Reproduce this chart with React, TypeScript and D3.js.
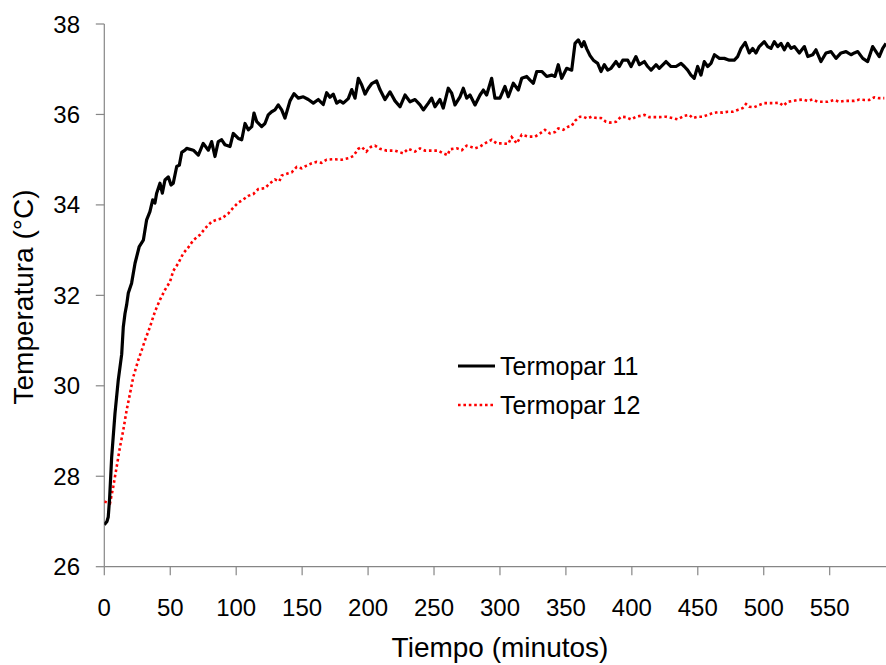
import React from "react";
import * as d3 from "d3";

// Termopar 11 (black, solid)
const time11 = [0,2,3,4,5.6,8.1,10.6,13.2,14.4,15.7,17,18.2,20.7,23.3,26.5,29.6,32.1,34.6,36.7,38.4,39.7,42.2,44,46,48.5,50.6,52.3,54.9,56.9,58.7,61.2,62.5,67.5,71.3,75,78.9,81.4,83.9,86.4,89,91.5,95.3,97.8,101.6,104.2,106.7,109.2,111.8,113.5,115.6,119.3,121.8,124.3,126.9,129.4,131.9,134.5,137,140.8,143.8,147.1,150.9,154.7,158.5,162.3,166,168.6,171.1,173.6,176.2,178.7,181.2,185,187.6,190.1,192.6,195.2,197.7,200.2,202.7,206.5,209,212.8,216.6,220.4,224.2,228,231.8,235.6,239.4,241.9,245.7,248.2,250.7,254.5,257,260.8,263.4,265.9,269.7,272.2,274.8,277.3,281.1,284.9,287.4,289.9,293.7,296.2,300,303.8,306.3,310.1,313.9,316.5,320.3,322.8,325.3,327.9,331.7,335.4,339.2,341.7,344.2,346.8,350.6,354.4,356.9,359.4,362,363.7,365.8,368.3,370.8,374.1,376.6,379.1,381.7,384.2,388,390.5,393.1,396.9,399.4,403.1,405.7,409.5,412,414.6,418.3,420.8,425.9,429.7,433.5,437.3,439.8,442.3,444.8,447.3,449.9,452.4,454.9,457.5,460,462.6,466.4,470.1,473.9,477.7,480.2,482.8,486,489,491.6,494.1,496.6,500.4,503,505.5,508,510.6,513.1,515.6,518.2,520.7,523.2,527,530.8,533.4,537.1,539.6,543.4,547.2,551,554.8,558.6,562.4,566.2,568.7,571.3,575.1,578.8,582.6,585.1,587.6,590.2,592.7];
const temp11 = [26.93,27.0,27.1,27.5,28.43,29.39,30.13,30.7,31.3,31.6,31.8,32.05,32.27,32.71,33.08,33.22,33.67,33.85,34.11,34.04,34.26,34.48,34.26,34.55,34.62,34.44,34.48,34.85,34.88,35.16,35.21,35.25,35.21,35.1,35.36,35.21,35.4,35.07,35.4,35.44,35.33,35.29,35.58,35.47,35.44,35.8,35.66,35.73,36.03,35.84,35.73,35.8,35.99,36.06,36.1,36.21,36.1,35.92,36.3,36.46,36.36,36.39,36.33,36.25,36.33,36.22,36.48,36.38,36.45,36.25,36.3,36.25,36.35,36.55,36.36,36.8,36.65,36.45,36.58,36.68,36.74,36.55,36.33,36.5,36.3,36.17,36.43,36.28,36.33,36.21,36.1,36.25,36.36,36.17,36.33,36.14,36.58,36.47,36.21,36.39,36.58,36.36,36.43,36.21,36.43,36.54,36.43,36.8,36.36,36.36,36.62,36.39,36.69,36.54,36.8,36.84,36.76,36.69,36.95,36.95,36.84,36.87,36.84,37.1,36.8,37.02,36.98,37.57,37.65,37.5,37.61,37.45,37.3,37.2,37.13,36.95,37.1,36.98,37.02,37.17,37.06,37.2,37.2,37.06,37.28,37.1,37.17,37.06,36.98,37.1,37.02,37.17,37.06,37.06,37.13,37.06,36.98,36.87,36.8,37.06,36.87,37.17,37.06,37.13,37.32,37.24,37.24,37.2,37.2,37.28,37.46,37.59,37.36,37.46,37.36,37.5,37.61,37.5,37.46,37.61,37.5,37.57,37.43,37.57,37.46,37.5,37.36,37.5,37.28,37.32,37.43,37.17,37.36,37.39,37.24,37.36,37.39,37.32,37.36,37.39,37.24,37.17,37.5,37.39,37.28,37.46,37.57];

// Termopar 12 (red, dotted)
const time12 = [0,4.3,6.8,9.4,11.9,14.4,17,19.5,22,25.8,28.4,30.9,34.6,38.4,42.2,46,49.8,52.3,56.1,59.9,63.7,67.5,72.6,76.4,81.4,85.2,89,94,97.8,101.6,105.4,109.2,113,116.8,121.8,125.6,129.4,132.7,134.5,139.5,142.1,145.9,149.7,153.5,157.3,161,164.8,168.6,173.6,180,185,188.8,192.6,195.2,198.7,202,205.2,209,214.1,220.4,226.7,230.5,235.6,239.4,243.2,248.2,253.2,257,260.3,262.1,267.2,271,274.8,277.3,281.1,284.9,288.6,293.7,297.5,301.3,306.3,308.9,312.7,316.5,321.5,326.6,330.4,334.1,337.9,341.7,344.2,348,351.8,354.4,356.9,360.7,363.2,366.2,369.5,373.3,376.6,380.4,383.4,388,391.8,395.6,399.4,403.1,406.9,409.5,413.2,417,420.8,425.9,431,434.8,439.8,443.6,446.1,449.9,453.7,457.5,461.3,465.1,468.9,472.7,476.5,480.2,484,486.5,489,492.8,496.6,500.4,504.2,508,511.8,514.8,518.2,522,525.8,529.5,533.3,537.1,540.9,544.7,548.5,553.5,557.3,561.1,564.9,568.7,572.5,576.3,580,583.8,587.6,591.4];
const temp12 = [27.44,27.4,27.77,28.21,28.65,29.02,29.47,29.83,30.2,30.57,30.79,31.01,31.3,31.64,31.9,32.12,32.3,32.54,32.71,32.93,33.06,33.22,33.34,33.48,33.63,33.67,33.7,33.81,33.94,34.05,34.12,34.2,34.24,34.35,34.37,34.48,34.56,34.52,34.65,34.7,34.72,34.84,34.81,34.87,34.92,34.95,34.93,35.0,35.01,35.0,35.03,35.08,35.24,35.28,35.18,35.28,35.31,35.24,35.2,35.2,35.14,35.24,35.18,35.25,35.2,35.2,35.2,35.14,35.1,35.23,35.25,35.21,35.31,35.29,35.25,35.29,35.36,35.44,35.36,35.36,35.35,35.5,35.36,35.55,35.51,35.51,35.58,35.66,35.58,35.61,35.69,35.66,35.73,35.75,35.86,35.95,35.95,35.91,35.95,35.92,35.92,35.84,35.82,35.84,35.95,35.94,35.89,35.95,35.97,35.99,35.94,35.94,35.94,35.95,35.92,35.89,35.97,35.99,35.92,35.95,35.95,35.99,36.03,36.05,36.04,36.06,36.06,36.1,36.14,36.23,36.17,36.16,36.21,36.25,36.25,36.25,36.26,36.19,36.28,36.3,36.32,36.33,36.3,36.33,36.28,36.28,36.28,36.32,36.28,36.3,36.3,36.3,36.33,36.32,36.32,36.38,36.36,36.36];

const xTicks = [0, 50, 100, 150, 200, 250, 300, 350, 400, 450, 500, 550];
const yTicks = [26, 28, 30, 32, 34, 36, 38];
const seriesNames = ["Termopar 11", "Termopar 12"];
const xTitle = "Tiempo (minutos)";
const yTitle = "Temperatura (°C)";

const W = 886;
const H = 665;
const FONT = "'Liberation Sans', Arial, Helvetica, sans-serif";

export default function App() {
  const x = d3.scaleLinear().domain([0, 592.7]).range([104.3, 886]);
  const y = d3.scaleLinear().domain([26, 38]).range([566.7, 24]);

  const pts11 = time11.map((t, i) => [t, temp11[i]] as [number, number]);
  const pts12 = time12.map((t, i) => [t, temp12[i]] as [number, number]);
  const line = d3
    .line<[number, number]>()
    .x((d) => x(d[0]))
    .y((d) => y(d[1]));

  const axisColor = "#868686";
  const x0 = x(0);
  const y0 = y(26);

  return (
    <svg
      width={W}
      height={H}
      style={{ position: "absolute", left: 0, top: 0, background: "#fff" }}
      fontFamily={FONT}
    >
      <defs>
        <clipPath id="plotClip">
          <rect x={x0} y={0} width={W - x0} height={y0} />
        </clipPath>
      </defs>
      <rect x={0} y={0} width={W} height={H} fill="#fff" />

      {/* Y axis */}
      <line x1={x0} x2={x0} y1={y(38)} y2={y0} stroke={axisColor} strokeWidth={1.2} />
      {yTicks.map((v) => (
        <g key={"y" + v}>
          <line x1={x0 - 8.5} x2={x0} y1={y(v)} y2={y(v)} stroke={axisColor} strokeWidth={1.2} />
          <text x={80} y={y(v) + 8.5} textAnchor="end" fontSize={24} fill="#000">
            {v}
          </text>
        </g>
      ))}

      {/* X axis */}
      <line x1={x0} x2={W} y1={y0} y2={y0} stroke={axisColor} strokeWidth={1.2} />
      {xTicks.map((t) => (
        <g key={"x" + t}>
          <line x1={x(t)} x2={x(t)} y1={y0} y2={y0 + 8.5} stroke={axisColor} strokeWidth={1.2} />
          <text x={x(t)} y={616} textAnchor="middle" fontSize={24} fill="#000">
            {t}
          </text>
        </g>
      ))}

      {/* Titles */}
      <text x={500} y={657} textAnchor="middle" fontSize={28} fill="#000">
        {xTitle}
      </text>
      <text
        transform={`translate(33, 297) rotate(-90)`}
        textAnchor="middle"
        fontSize={28}
        fill="#000"
      >
        {yTitle}
      </text>

      {/* Series */}
      <g clipPath="url(#plotClip)">
        <path
          d={line(pts12) || ""}
          fill="none"
          stroke="#ff0000"
          strokeWidth={2.6}
          strokeDasharray="2.6 2.8"
        />
        <path
          d={line(pts11) || ""}
          fill="none"
          stroke="#000"
          strokeWidth={3.2}
          strokeLinejoin="round"
        />
      </g>

      {/* Legend */}
      <line x1={458} x2={495} y1={366} y2={366} stroke="#000" strokeWidth={3} />
      <text x={500} y={375} fontSize={25} fill="#000">
        {seriesNames[0]}
      </text>
      <line
        x1={458}
        x2={495}
        y1={405}
        y2={405}
        stroke="#ff0000"
        strokeWidth={2.6}
        strokeDasharray="2.6 2.8"
      />
      <text x={500} y={414} fontSize={25} fill="#000">
        {seriesNames[1]}
      </text>
    </svg>
  );
}
